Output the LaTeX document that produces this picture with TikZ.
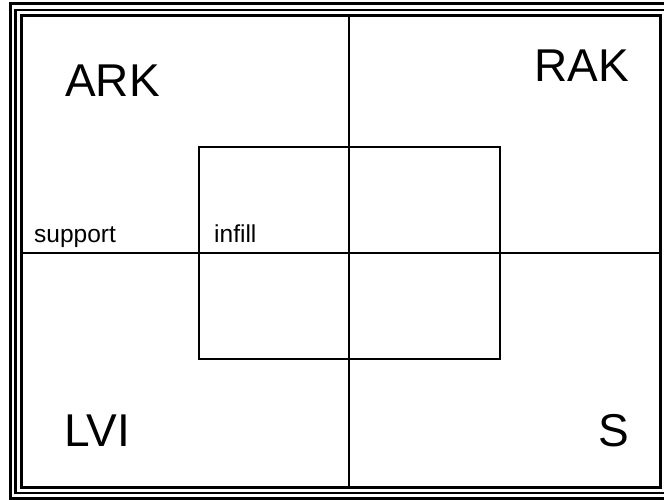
\documentclass[tikz,border=0pt]{standalone}
\usepackage{fontspec}
\setmainfont{Liberation Sans}
\begin{document}
\begin{tikzpicture}[x=1pt,y=-1pt,
  frame/.style={draw=black,line width=3pt},
  gridline/.style={draw=black,line width=2pt},
  big/.style={font=\fontsize{46}{46}\selectfont,inner sep=0pt,anchor=base west},
  small/.style={font=\fontsize{24.5}{24.5}\selectfont,inner sep=0pt,anchor=base west}]
\useasboundingbox (0,0) rectangle (664,500);
\clip (0,0) rectangle (664,500);
\fill[white] (0,0) rectangle (664,500);
% triple border
\draw[frame] (10,4) rectangle (700,498);
\draw[frame,line width=2.5pt] (15.5,10) rectangle (695,493);
\draw[frame] (21.5,15.5) rectangle (660,487.5);
% quadrant lines
\draw[gridline] (348.5,15.5) -- (348.5,487.5);
\draw[gridline] (21.5,253) -- (660,253);
% inner rectangle
\draw[gridline] (199,147) rectangle (500,359);
% labels
\node[big] (ark) at (65,97) {ARK};
\node[big] (rak) at (534,82) {RAK};
\node[big] (lvi) at (64,446) {LVI};
\node[big] (s) at (598,446) {S};
\node[small] (support) at (34,242) {support};
\node[small] (infill) at (214,242) {infill};
\end{tikzpicture}
\end{document}
